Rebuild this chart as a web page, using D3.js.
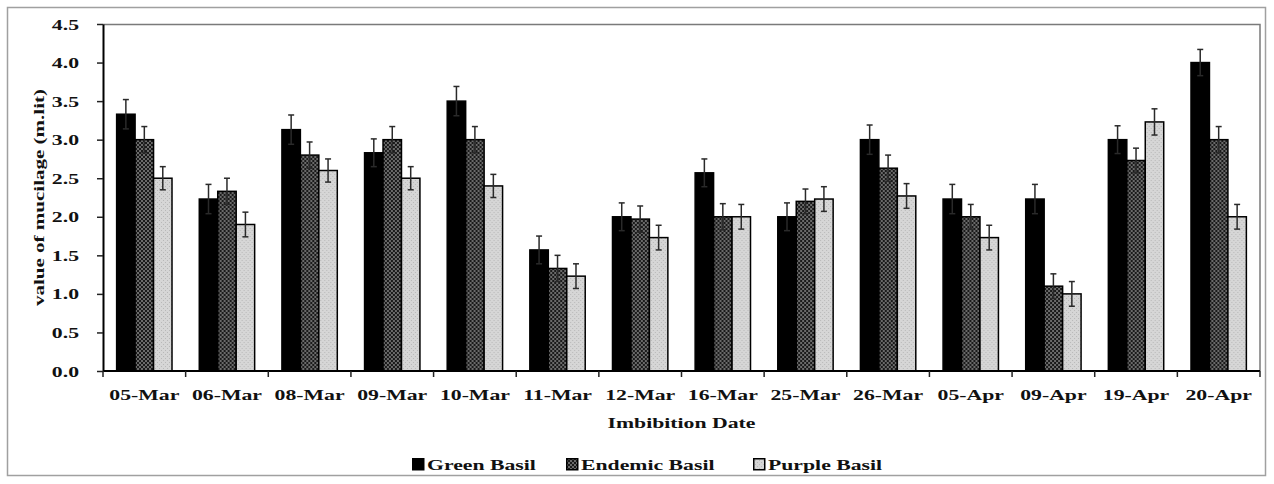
<!DOCTYPE html>
<html>
<head>
<meta charset="utf-8">
<script src="https://cdn.jsdelivr.net/npm/d3@7"></script>
<style>
  body { margin: 0; background: #fff; }
  text { font-family: "Liberation Serif", "Times New Roman", serif; font-weight: bold; fill: #111; }
</style>
</head>
<body>
<div id="chart"></div>
<script>
// data
const dates = ['05-Mar', '06-Mar', '08-Mar', '09-Mar', '10-Mar', '11-Mar', '12-Mar',
               '16-Mar', '25-Mar', '26-Mar', '05-Apr', '09-Apr', '19-Apr', '20-Apr']
const seriesNames = ['Green Basil', 'Endemic Basil', 'Purple Basil']
const greenBasil   = [3.33, 2.23, 3.13, 2.83, 3.50, 1.57, 2.00, 2.57, 2.00, 3.00, 2.23, 2.23, 3.00, 4.00]
const endemicBasil = [3.00, 2.33, 2.80, 3.00, 3.00, 1.33, 1.97, 2.00, 2.20, 2.63, 2.00, 1.10, 2.73, 3.00]
const purpleBasil  = [2.50, 1.90, 2.60, 2.50, 2.40, 1.23, 1.73, 2.00, 2.23, 2.27, 1.73, 1.00, 3.23, 2.00]
const greenErr   = [0.19, 0.19, 0.19, 0.18, 0.19, 0.18, 0.18, 0.18, 0.18, 0.19, 0.19, 0.19, 0.18, 0.17]
const endemicErr = [0.17, 0.17, 0.17, 0.17, 0.17, 0.17, 0.17, 0.17, 0.16, 0.17, 0.16, 0.16, 0.16, 0.17]
const purpleErr  = [0.15, 0.16, 0.15, 0.15, 0.15, 0.16, 0.16, 0.16, 0.16, 0.16, 0.16, 0.16, 0.17, 0.16]
const yTicks = [0, 0.5, 1, 1.5, 2, 2.5, 3, 3.5, 4, 4.5]

// table used for drawing
const values = [greenBasil, endemicBasil, purpleBasil]
const errors = [greenErr, endemicErr, purpleErr]
const rows = dates.map((date, i) => ({
    date: date,
    bars: seriesNames.map((name, s) => ({ name: name, value: values[s][i], err: errors[s][i] }))
}))

const svg_width = 1274
const svg_height = 484
const margin = { top: 24, bottom: 113, right: 14, left: 103 }
const chart_width = svg_width - margin.left - margin.right
const chart_height = svg_height - margin.top - margin.bottom
const stretch = 1.45   // text in the picture is wide along its baseline

const svg = d3.select('#chart').append('svg')
    .attr('width', svg_width).attr('height', svg_height)

// patterns
const defs = svg.append('defs')
const pEnd = defs.append('pattern').attr('id', 'endemic')
    .attr('patternUnits', 'userSpaceOnUse').attr('width', 4).attr('height', 4)
pEnd.append('rect').attr('width', 4).attr('height', 4).attr('fill', '#6a6a6a')
pEnd.append('rect').attr('width', 2).attr('height', 2).attr('fill', '#1a1a1a')
pEnd.append('rect').attr('x', 2).attr('y', 2).attr('width', 2).attr('height', 2).attr('fill', '#1a1a1a')
const pPur = defs.append('pattern').attr('id', 'purple')
    .attr('patternUnits', 'userSpaceOnUse').attr('width', 4).attr('height', 4)
pPur.append('rect').attr('width', 4).attr('height', 4).attr('fill', '#d6d6d6')
pPur.append('rect').attr('width', 1).attr('height', 1).attr('fill', '#b8b8b8')
pPur.append('rect').attr('x', 2).attr('y', 2).attr('width', 1).attr('height', 1).attr('fill', '#b8b8b8')

const fills = { 'Green Basil': '#000', 'Endemic Basil': 'url(#endemic)', 'Purple Basil': 'url(#purple)' }

// outer frame
svg.append('rect').attr('x', 7.5).attr('y', 7.5)
    .attr('width', svg_width - 8.5 - 7.5).attr('height', svg_height - 8.5 - 7.5)
    .attr('fill', 'none').attr('stroke', '#a0a0a0').attr('stroke-width', 1.5)

const g = svg.append('g').attr('transform', `translate(${margin.left},${margin.top})`)

// scales
const x0 = d3.scaleBand().domain(dates).range([0, chart_width]).padding(0)
const x1 = d3.scaleBand().domain(seriesNames)
    .range([x0.bandwidth() * 0.165, x0.bandwidth() * 0.835])
const yScale = d3.scaleLinear().domain([0, 4.5]).range([chart_height, 0])

// plot frame top/right
g.append('path')
    .attr('d', `M0,0.5H${chart_width}V${chart_height}`)
    .attr('fill', 'none').attr('stroke', '#7a7a7a').attr('stroke-width', 1.5)

// bars
const groups = g.selectAll('.group').data(rows).enter().append('g')
    .attr('class', 'group')
    .attr('transform', d => `translate(${x0(d.date)},0)`)

groups.selectAll('rect').data(d => d.bars).enter().append('rect')
    .attr('x', d => x1(d.name))
    .attr('y', d => yScale(d.value))
    .attr('width', x1.bandwidth())
    .attr('height', d => chart_height - yScale(d.value))
    .attr('fill', d => fills[d.name])
    .attr('stroke', '#000').attr('stroke-width', 1.5)

// error bars
const eb = groups.selectAll('.err').data(d => d.bars).enter().append('g').attr('class', 'err')
    .attr('stroke', '#2a2a2a').attr('stroke-width', 1.5)
eb.append('line')
    .attr('x1', d => x1(d.name) + x1.bandwidth() / 2).attr('x2', d => x1(d.name) + x1.bandwidth() / 2)
    .attr('y1', d => yScale(d.value + d.err)).attr('y2', d => yScale(d.value - d.err))
eb.selectAll('.cap').data(d => [d.value + d.err, d.value - d.err].map(v => ({ name: d.name, v: v })))
    .enter().append('line').attr('class', 'cap')
    .attr('x1', d => x1(d.name) + x1.bandwidth() / 2 - 3).attr('x2', d => x1(d.name) + x1.bandwidth() / 2 + 3)
    .attr('y1', d => yScale(d.v)).attr('y2', d => yScale(d.v))

// y axis
const yAxis = d3.axisLeft(yScale).tickValues(yTicks).tickFormat(d3.format('.1f'))
    .tickSizeInner(6).tickSizeOuter(0).tickPadding(18)
const yAxisDraw = g.append('g').call(yAxis)
yAxisDraw.select('.domain').attr('stroke', '#000').attr('stroke-width', 2)
yAxisDraw.selectAll('.tick line').attr('stroke', '#222').attr('stroke-width', 1.5)
yAxisDraw.selectAll('.tick text')
    .style('font-size', '15px').attr('dy', '0.34em')
    .attr('transform', function () {
        const xx = +d3.select(this).attr('x')
        return `translate(${xx},0) scale(${stretch},1) translate(${-xx},0)`
    })

// x axis: ticks on group edges
const xAxisG = g.append('g').attr('transform', `translate(0,${chart_height})`)
xAxisG.append('line').attr('x1', 0).attr('x2', chart_width)
    .attr('stroke', '#000').attr('stroke-width', 2)
const edges = dates.map(d => x0(d)).concat([x0(dates[dates.length - 1]) + x0.bandwidth()])
xAxisG.selectAll('.xt').data(edges).enter().append('line')
    .attr('x1', d => d).attr('x2', d => d).attr('y1', 0).attr('y2', 6)
    .attr('stroke', '#222').attr('stroke-width', 1.5)
xAxisG.selectAll('.xl').data(dates).enter().append('text')
    .attr('text-anchor', 'middle')
    .attr('transform', d => `translate(${x0(d) + x0.bandwidth() / 2},29) scale(${stretch},1)`)
    .style('font-size', '15px')
    .text(d => d)

// axis titles
svg.append('text')
    .attr('text-anchor', 'middle')
    .attr('transform', `translate(${margin.left + chart_width / 2},428) scale(${stretch},1)`)
    .style('font-size', '15px')
    .text('Imbibition Date')

svg.append('text')
    .attr('text-anchor', 'middle')
    .attr('transform', `translate(44,${margin.top + chart_height / 2}) rotate(-90) scale(${stretch},1)`)
    .style('font-size', '14.5px')
    .text('value of mucilage (m.lit)')

// legend
const legendX = [412, 566, 753]
const legend = svg.append('g').selectAll('.leg').data(seriesNames).enter().append('g')
    .attr('transform', (d, i) => `translate(${legendX[i]},458)`)
legend.append('rect').attr('x', 0.75).attr('y', 0.75).attr('width', 11).attr('height', 11)
    .attr('fill', d => fills[d]).attr('stroke', '#000').attr('stroke-width', 1.5)
legend.append('text')
    .attr('transform', `translate(15,12) scale(${stretch},1)`)
    .style('font-size', '15px')
    .text(d => d)
</script>
</body>
</html>
